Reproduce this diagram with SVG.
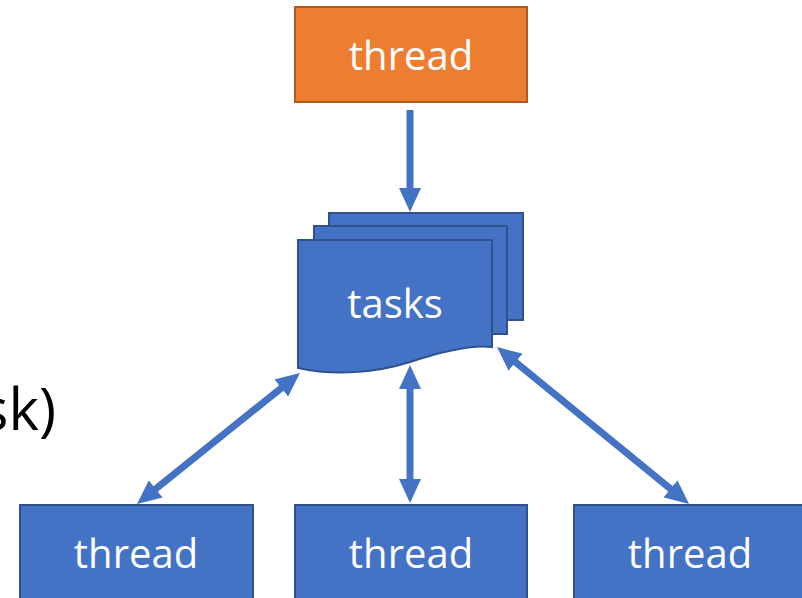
<svg xmlns="http://www.w3.org/2000/svg" width="802" height="598" viewBox="0 0 802 598">
  <style>
    .blue { fill: #4472C4; stroke: #2F528F; stroke-width: 2; }
    .orange { fill: #ED7D31; stroke: #AE5A21; stroke-width: 2; }
    .label { font-family: "Open Sans", "Liberation Sans", sans-serif; font-size: 40px; fill: #FFFFFF; text-anchor: middle; }
    .conn { stroke: #4472C4; stroke-width: 7; fill: none; }
  </style>
  <defs>
    <marker id="head" markerUnits="userSpaceOnUse" markerWidth="24" markerHeight="22" viewBox="0 0 24 22" refX="13" refY="11" orient="auto-start-reverse">
      <path d="M0,0 L24,11 L0,22 z" fill="#4472C4"/>
    </marker>
  </defs>
  <rect width="802" height="598" fill="#FFFFFF"/>

  <!-- partial caption text at the left edge -->
  <text x="56" y="430" font-family="Open Sans, Liberation Sans, sans-serif" font-size="58" fill="#000000" text-anchor="end">sk)</text>

  <g id="producer">
    <rect class="orange" x="295" y="7" width="232" height="95"/>
    <text class="label" x="411" y="70">thread</text>
  </g>

  <g id="tasks">
    <rect class="blue" x="329" y="213" width="194" height="107"/>
    <rect class="blue" x="314" y="226" width="193" height="108"/>
    <path class="blue" d="M298,240 L492,240 L492,347 C470,344 440,352 410,362 C375,373 335,376 298,368 Z"/>
    <text class="label" x="395" y="318">tasks</text>
  </g>

  <g id="worker-left">
    <rect class="blue" x="20" y="505" width="233" height="100"/>
    <text class="label" x="136" y="568">thread</text>
  </g>
  <g id="worker-middle">
    <rect class="blue" x="295" y="505" width="232" height="100"/>
    <text class="label" x="411" y="568">thread</text>
  </g>
  <g id="worker-right">
    <rect class="blue" x="574" y="505" width="233" height="100"/>
    <text class="label" x="690" y="568">thread</text>
  </g>

  <g id="connectors">
    <line class="conn" x1="410" y1="110" x2="410" y2="201" marker-end="url(#head)"/>
    <line class="conn" x1="145.6" y1="497.1" x2="291.4" y2="379.9" marker-start="url(#head)" marker-end="url(#head)"/>
    <line class="conn" x1="410" y1="376" x2="410" y2="492" marker-start="url(#head)" marker-end="url(#head)"/>
    <line class="conn" x1="505.5" y1="354" x2="680.5" y2="497" marker-start="url(#head)" marker-end="url(#head)"/>
  </g>
</svg>
